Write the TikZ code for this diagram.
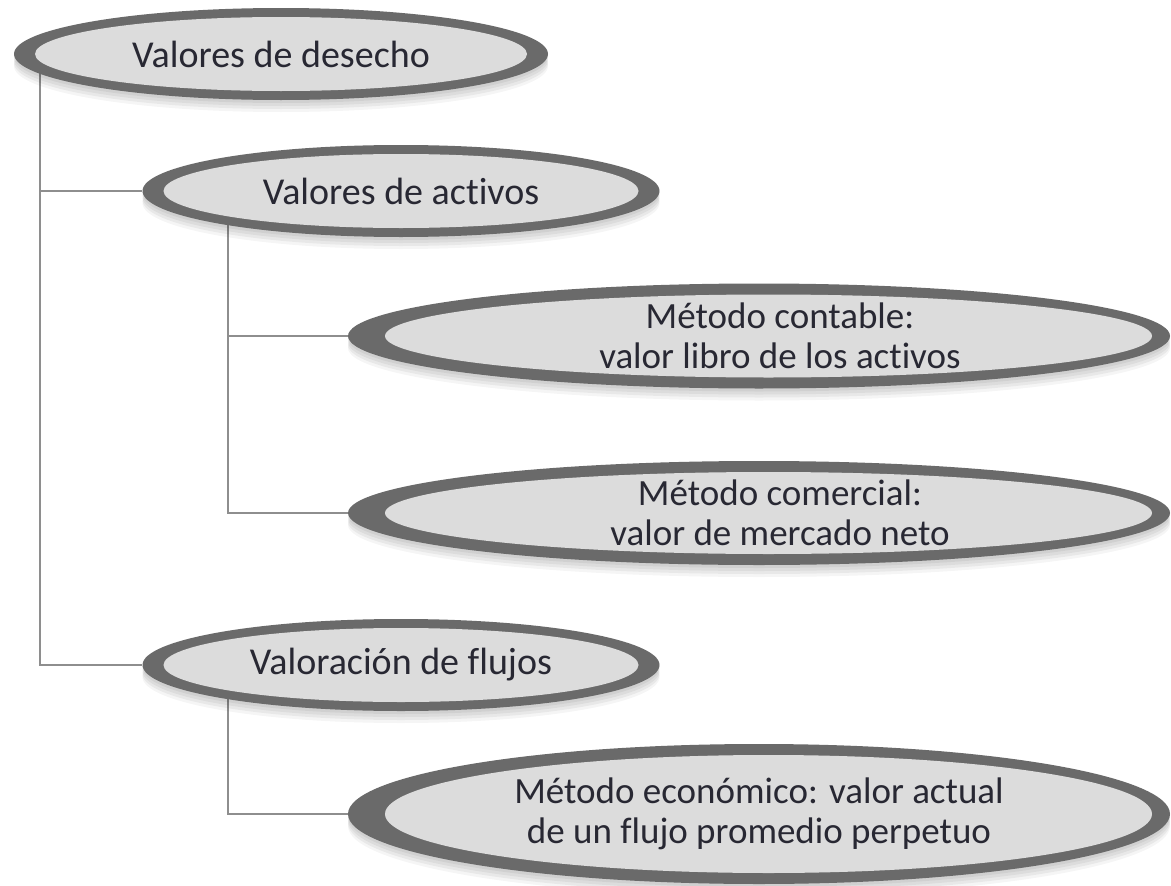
\documentclass[tikz,border=0pt]{standalone}
\usepackage{fontspec}
\setmainfont{Carlito}[Ligatures=NoCommon]
\usetikzlibrary{shapes.geometric,shadows,calc}
\definecolor{ring}{HTML}{6A6A6A}
\definecolor{innerfill}{HTML}{DCDCDC}
\definecolor{conn}{HTML}{8E8E8E}
\definecolor{txt}{HTML}{282833}
\pgfdeclarelayer{bg}
\pgfsetlayers{bg,main}
\tikzset{
  softshadow/.style={
    general shadow={fill=black,opacity=.05,shadow yshift=-3pt},
    general shadow={fill=black,opacity=.05,shadow yshift=-6pt},
    general shadow={fill=black,opacity=.05,shadow yshift=-9pt},
    general shadow={fill=black,opacity=.04,shadow yshift=-12pt}},
  oval/.style={ellipse, inner sep=0pt, fill=ring, text=txt, align=center, softshadow},
  smalloval/.style={oval, font=\fontsize{38}{44}\selectfont,
    path picture={\path let \p1=(path picture bounding box.north east),
      \p2=(path picture bounding box.center) in
      [fill=innerfill] (\p2) ellipse [x radius={\x1-\x2-21pt}, y radius={\y1-\y2-9pt}];}},
  bigoval/.style={oval, font=\fontsize{37}{40}\selectfont,
    path picture={\path let \p1=(path picture bounding box.north east),
      \p2=(path picture bounding box.center) in
      [fill=innerfill] (\x2+9.5pt,\y2) ellipse [x radius={\x1-\x2-27.5pt}, y radius={\y1-\y2-11pt}];}},
  link/.style={draw=conn, line width=2.5pt}
}
\begin{document}
\begin{tikzpicture}[x=1pt,y=-1pt]
\useasboundingbox (0,0) rectangle (1171,886);
\node[smalloval, minimum width=534pt, minimum height=92pt] (des) at (281,54) {Valores de desecho};
\node[smalloval, minimum width=517pt, minimum height=92pt] (act) at (401,191) {Valores de activos};
\node[bigoval, minimum width=822pt, minimum height=105pt] (con) at (759,336)
  {\hspace*{42pt}Método contable:\\\hspace*{42pt}valor libro de los activos};
\node[bigoval, minimum width=822pt, minimum height=104pt] (com) at (759,513)
  {\hspace*{42pt}Método comercial:\\\hspace*{42pt}valor de mercado neto};
\node[smalloval, minimum width=517pt, minimum height=92pt] (flu) at (401,665) {Valoración de flujos};
\node[bigoval, minimum width=822pt, minimum height=140pt] (eco) at (759,814)
  {Método económico: valor actual\\de un flujo promedio perpetuo};
\coordinate (t1) at (40,70);
\coordinate (t2) at (228,215);
\coordinate (t3) at (228,690);
\begin{pgfonlayer}{bg}
\fill[white] (0,0) rectangle (1171,886);
\draw[link] (t1) |- (act.west);
\draw[link] (t1) |- (flu.west);
\draw[link] (t2) |- (con.west);
\draw[link] (t2) |- (com.west);
\draw[link] (t3) |- (eco.west);
\end{pgfonlayer}
\end{tikzpicture}
\end{document}
